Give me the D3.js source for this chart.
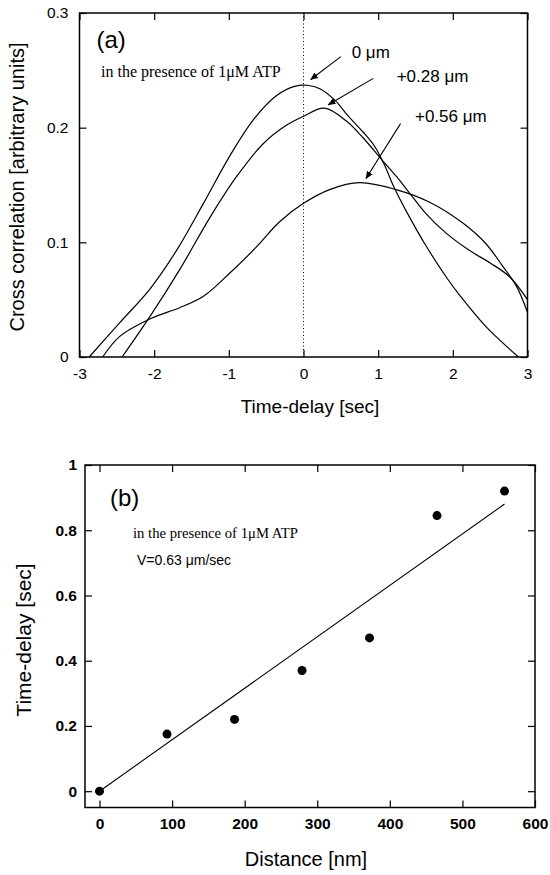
<!DOCTYPE html>
<html>
<head>
<meta charset="utf-8">
<script src="https://cdn.jsdelivr.net/npm/d3@7"></script>
<style>
  body { margin: 0; background: #fff; }
  svg { display: block; font-family: "Liberation Sans", Arial, sans-serif; }
  .serif { font-family: "Liberation Serif", "Times New Roman", serif; }
</style>
</head>
<body>
<div id="content"></div>
<script>
// ---- panel (a): cross correlation curves ----
const delay0 = [-2.87,-2.46,-2.06,-1.70,-1.34,-0.99,-0.67,-0.36,-0.12,0.05,0.22,0.42,0.60,0.80,0.95,1.08,1.22,1.42,1.64,1.93,2.09,2.45,2.88];
const corr0  = [0,0.030,0.059,0.093,0.134,0.175,0.207,0.228,0.236,0.237,0.234,0.224,0.210,0.196,0.184,0.168,0.147,0.122,0.097,0.068,0.054,0.026,0];

const delay28 = [-2.43,-2.06,-1.66,-1.25,-0.90,-0.54,-0.23,0.0,0.28,0.57,0.80,1.05,1.25,1.42,1.64,1.91,2.22,2.50,2.76,3.0];
const corr28  = [0,0.035,0.076,0.122,0.157,0.186,0.202,0.210,0.217,0.206,0.191,0.172,0.157,0.143,0.125,0.108,0.093,0.082,0.070,0.050];

const delay56 = [-2.69,-2.46,-2.03,-1.66,-1.34,-0.99,-0.63,-0.32,0.0,0.35,0.75,1.24,1.69,2.13,2.44,2.67,2.85,3.0];
const corr56  = [0,0.018,0.034,0.043,0.053,0.073,0.096,0.118,0.134,0.146,0.152,0.146,0.135,0.117,0.099,0.079,0.062,0.039];

const xTicksA = [-3,-2,-1,0,1,2,3];
const yTicksA = [0,0.1,0.2,0.3];

// curve labels + arrows (data units of panel a)
const curveLabels = ["0 \u03bcm", "+0.28 \u03bcm", "+0.56 \u03bcm"];
const labelPos  = [[0.645,0.261],[1.248,0.240],[1.493,0.205]];
const arrowFrom = [[0.50,0.262],[0.935,0.243],[1.30,0.2035]];
const arrowTo   = [[0.097,0.242],[0.332,0.220],[0.837,0.1556]];

// ---- panel (b): time delay vs distance ----
const distance = [0, 93, 186, 279, 372, 465, 558];
const timeDelay = [0, 0.175, 0.22, 0.37, 0.47, 0.845, 0.92];
const xTicksB = [0,100,200,300,400,500,600];
const yTicksB = [0,0.2,0.4,0.6,0.8,1];

const W = 550, H = 875;
const svg = d3.select("#content").append("svg")
  .attr("width", W).attr("height", H);

// plain hyphen minus, like the original print
const num = d => String(d);

// frame + inward ticks on all four sides
const frame = (g, x, y, xt, yt, padX, padY, fontSize, weight) => {
  const [x0, x1] = x.range(), [y0, y1] = y.range();
  const ax = [
    [d3.axisBottom(x).tickValues(xt).tickFormat(num).tickPadding(padX), y0],
    [d3.axisTop(x).tickValues(xt).tickFormat(""), y1]
  ];
  ax.forEach(([a, ty]) => {
    g.append("g").attr("transform", `translate(0,${ty})`)
      .call(a.tickSizeInner(-7).tickSizeOuter(0))
      .call(s => s.select(".domain").remove());
  });
  const ay = [
    [d3.axisLeft(y).tickValues(yt).tickFormat(num).tickPadding(padY), x0],
    [d3.axisRight(y).tickValues(yt).tickFormat(""), x1]
  ];
  ay.forEach(([a, tx]) => {
    g.append("g").attr("transform", `translate(${tx},0)`)
      .call(a.tickSizeInner(-7).tickSizeOuter(0))
      .call(s => s.select(".domain").remove());
  });
  g.selectAll(".tick line").attr("stroke", "#000").attr("stroke-width", 1.2);
  g.selectAll(".tick text").attr("fill", "#000")
    .style("font-size", fontSize + "px").style("font-weight", weight)
    .style("font-family", "'Liberation Sans', Arial, sans-serif");
  g.append("rect")
    .attr("x", x0).attr("y", y1).attr("width", x1 - x0).attr("height", y0 - y1)
    .attr("fill", "none").attr("stroke", "#000").attr("stroke-width", 1.5);
};

// ===== panel (a) =====
const xA = d3.scaleLinear().domain([-3, 3]).range([79.5, 527.5]);
const yA = d3.scaleLinear().domain([0, 0.3]).range([357, 13]);
const gA = svg.append("g");

gA.append("line")
  .attr("x1", xA(0)).attr("x2", xA(0)).attr("y1", yA(0)).attr("y2", yA(0.3))
  .attr("stroke", "#000").attr("stroke-width", 1).attr("stroke-dasharray", "1,2.5");

const lineA = d3.line().x(d => xA(d[0])).y(d => yA(d[1])).curve(d3.curveCatmullRom.alpha(0.5));
[[delay0, corr0], [delay28, corr28], [delay56, corr56]].forEach(([xs, ys]) => {
  gA.append("path")
    .datum(xs.map((v, i) => [v, ys[i]]))
    .attr("d", lineA)
    .attr("fill", "none").attr("stroke", "#000").attr("stroke-width", 1.2);
});

frame(gA, xA, yA, xTicksA, yTicksA, 10.5, 11, 15.5, "normal");

// arrows
svg.append("defs").append("marker")
  .attr("id", "head").attr("viewBox", "0 0 10 10")
  .attr("refX", 9).attr("refY", 5)
  .attr("markerWidth", 8).attr("markerHeight", 8)
  .attr("markerUnits", "userSpaceOnUse")
  .attr("orient", "auto")
  .append("path").attr("d", "M0,1 L10,5 L0,9 Z").attr("fill", "#000");

arrowFrom.forEach((f, i) => {
  gA.append("line")
    .attr("x1", xA(f[0])).attr("y1", yA(f[1]))
    .attr("x2", xA(arrowTo[i][0])).attr("y2", yA(arrowTo[i][1]))
    .attr("stroke", "#000").attr("stroke-width", 1.1)
    .attr("marker-end", "url(#head)");
});
curveLabels.forEach((t, i) => {
  gA.append("text")
    .attr("x", xA(labelPos[i][0])).attr("y", yA(labelPos[i][1]))
    .style("font-size", "17px").text(t);
});

gA.append("text").attr("x", 96.5).attr("y", 47.5).style("font-size", "24px").text("(a)");
gA.append("text").attr("class", "serif").attr("x", 101).attr("y", 77)
  .style("font-size", "16px").text("in the presence of 1\u03bcM ATP");

gA.append("text")
  .attr("transform", "translate(24,187) rotate(-90)")
  .attr("text-anchor", "middle").style("font-size", "20px")
  .text("Cross correlation [arbitrary units]");
gA.append("text")
  .attr("x", 310).attr("y", 413).attr("text-anchor", "middle")
  .style("font-size", "19px").text("Time-delay [sec]");

// ===== panel (b) =====
const xB = d3.scaleLinear().domain([-20, 600]).range([85, 535]);
const yB = d3.scaleLinear().domain([-0.05, 1]).range([807.5, 465]);
const gB = svg.append("g");

frame(gB, xB, yB, xTicksB, yTicksB, 10, 8, 15.5, "bold");

// least squares fit through origin
const slope = d3.sum(distance, (d, i) => d * timeDelay[i]) / d3.sum(distance, d => d * d);
const fit = d3.extent(distance).map(d => [d, d * slope]);
gB.append("path")
  .datum(fit)
  .attr("d", d3.line().x(d => xB(d[0])).y(d => yB(d[1])))
  .attr("fill", "none").attr("stroke", "#000").attr("stroke-width", 1.1);

gB.selectAll("circle")
  .data(distance.map((d, i) => [d, timeDelay[i]]))
  .enter().append("circle")
  .attr("cx", d => xB(d[0])).attr("cy", d => yB(d[1]))
  .attr("r", 4.5).attr("fill", "#000");

gB.append("text").attr("x", 110).attr("y", 506).style("font-size", "24px").text("(b)");
gB.append("text").attr("class", "serif").attr("x", 133).attr("y", 538)
  .style("font-size", "14.7px").text("in the presence of 1\u03bcM ATP");
gB.append("text").attr("x", 137).attr("y", 565)
  .style("font-size", "14px").text("V=0.63 \u03bcm/sec");

gB.append("text")
  .attr("transform", "translate(31,640) rotate(-90)")
  .attr("text-anchor", "middle").style("font-size", "21px")
  .text("Time-delay [sec]");
gB.append("text")
  .attr("x", 306).attr("y", 866).attr("text-anchor", "middle")
  .style("font-size", "20px").text("Distance [nm]");
</script>
</body>
</html>
